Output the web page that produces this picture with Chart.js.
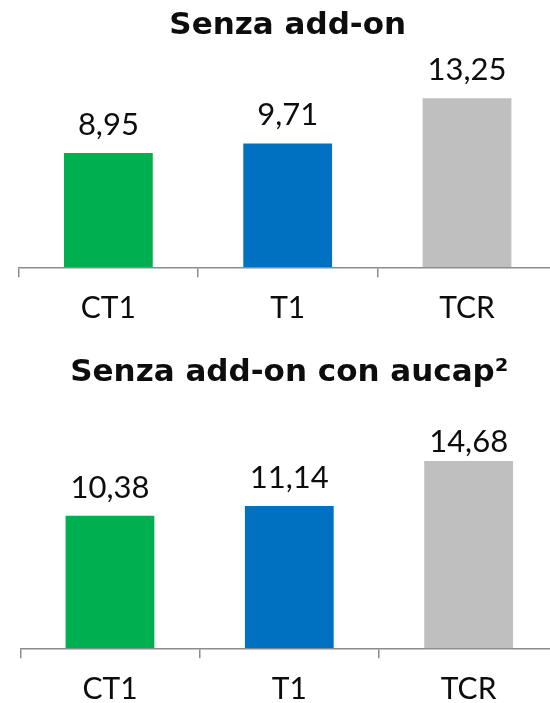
<!DOCTYPE html>
<html>
<head>
<meta charset="utf-8">
<script src="https://cdn.jsdelivr.net/npm/chart.js@4.4.1/dist/chart.umd.min.js"></script>
<style>
  html, body { margin: 0; padding: 0; background: #fff; overflow: hidden; }
  #wrap { position: relative; width: 550px; height: 703px; overflow: hidden; }
  .box { position: absolute; left: 0; width: 570px; }
  #b1 { top: 0; height: 340px; }
  #b2 { top: 340px; height: 381px; }
</style>
</head>
<body>
<div id="wrap">
  <div class="box" id="b1"><canvas id="c1"></canvas></div>
  <div class="box" id="b2"><canvas id="c2"></canvas></div>
</div>
<script>
// categories and values
let categories = ['CT1', 'T1', 'TCR'],
    senzaAddOn = [8.95, 9.71, 13.25],
    senzaAddOnAucap = [10.38, 11.14, 14.68],
    barColors = ['#00B050', '#0070C0', '#BFBFBF'],
    titles = ['Senza add-on', 'Senza add-on con aucap\u00B2'];

const axisGray = '#8c8c8c';
const textColor = '#0d0d0d';

// value labels above the bars, kept inside the plot area like in the original
const valueLabels = {
    id: 'valueLabels',
    afterDatasetsDraw(chart) {
        const ctx = chart.ctx;
        const size = 31;
        const cap = size * 0.72;
        ctx.save();
        ctx.font = size + 'px Lato';
        ctx.fillStyle = textColor;
        ctx.textAlign = 'center';
        ctx.textBaseline = 'alphabetic';
        chart.getDatasetMeta(0).data.forEach(function(bar, i) {
            let v = chart.data.datasets[0].data[i];
            let y = bar.y - 18;
            if (y - cap < chart.chartArea.top) {
                y = chart.chartArea.top + cap;
            }
            ctx.fillText(v.toFixed(2).replace('.', ','), bar.x, y);
        });
        ctx.restore();
    }
};

function makeChart(id, values, title, opt) {
    let ctx = document.getElementById(id).getContext('2d');
    return new Chart(ctx, {
        type: 'bar',
        data: {
            labels: categories,
            datasets: [{
                data: values,
                backgroundColor: barColors,
                borderWidth: 0,
                categoryPercentage: 1,
                barPercentage: 0.495
            }]
        },
        options: {
            responsive: true,
            maintainAspectRatio: false,
            animation: false,
            layout: { padding: opt.padding },
            plugins: {
                legend: { display: false },
                tooltip: { enabled: false },
                title: {
                    display: true,
                    text: title,
                    color: textColor,
                    font: { family: 'DejaVu Sans', size: 31, weight: 'bold', lineHeight: 1.2 },
                    padding: opt.titlePadding
                }
            },
            scales: {
                x: {
                    grid: {
                        display: true,
                        drawOnChartArea: false,
                        drawTicks: true,
                        tickLength: 10,
                        color: axisGray,
                        lineWidth: 1.5
                    },
                    border: { display: true, color: axisGray, width: 1.5 },
                    ticks: {
                        color: textColor,
                        padding: 13,
                        font: { family: 'Lato', size: 30, lineHeight: 1.2 }
                    }
                },
                y: {
                    display: false,
                    min: 0,
                    max: opt.yMax
                }
            }
        },
        plugins: [valueLabels]
    });
}

makeChart('c1', senzaAddOn, titles[0], {
    padding: { left: 18.7, right: 13.3, top: 0, bottom: 0.7 },
    titlePadding: { top: 7, bottom: 10 },
    yMax: 16.7
});

makeChart('c2', senzaAddOnAucap, titles[1], {
    padding: { left: 20.3, right: 11.7, top: 0, bottom: 0.7 },
    titlePadding: { top: 14, bottom: 38.8 },
    yMax: 17.1
});
</script>
</body>
</html>
